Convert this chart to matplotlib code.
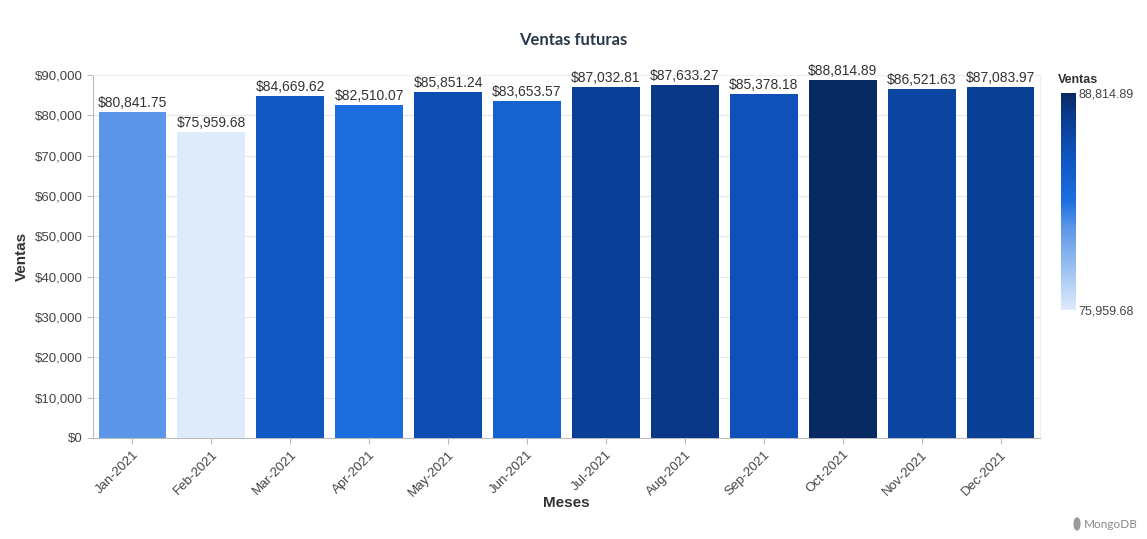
import matplotlib
matplotlib.use('Agg')
import matplotlib.pyplot as plt
from matplotlib.colors import LinearSegmentedColormap, Normalize
from matplotlib.patches import Ellipse
from matplotlib.ticker import FuncFormatter

meses = ['Jan-2021', 'Feb-2021', 'Mar-2021', 'Apr-2021', 'May-2021', 'Jun-2021',
         'Jul-2021', 'Aug-2021', 'Sep-2021', 'Oct-2021', 'Nov-2021', 'Dec-2021']
ventas = [80841.75, 75959.68, 84669.62, 82510.07, 85851.24, 83653.57,
          87032.81, 87633.27, 85378.18, 88814.89, 86521.63, 87083.97]

plt.rcParams['font.family'] = ['Liberation Sans', 'DejaVu Sans']

cmap = LinearSegmentedColormap.from_list('ventas', [
    (0.0, '#deebfb'), (0.38, '#5b96e8'), (0.5, '#1d6fe0'),
    (0.7, '#0f55c2'), (0.88, '#0a3d92'), (1.0, '#082a62')])
norm = Normalize(vmin=min(ventas), vmax=max(ventas))

fig = plt.figure(figsize=(11.47, 5.39), dpi=100)
ax = fig.add_axes([0.0811, 0.1874, 0.8256, 0.6735])

x = range(len(meses))
colors = [cmap(norm(v)) for v in ventas]
ax.bar(x, ventas, width=0.86, color=colors, zorder=3)
for i, v in enumerate(ventas):
    ax.text(i, v + 500, '${:,.2f}'.format(v), ha='center', va='bottom',
            fontsize=10, color='#333333', zorder=4)

ax.set_xlim(-0.5, len(meses) - 0.5)
ax.set_ylim(0, 90000)
ax.set_yticks(range(0, 90001, 10000))
ax.yaxis.set_major_formatter(FuncFormatter(lambda v, p: '${:,.0f}'.format(v)))
ax.set_xticks(list(x))
ax.set_xticklabels(meses, rotation=45, ha='right', rotation_mode='anchor')
ax.tick_params(axis='both', labelsize=9.5, colors='#bbbbbb', labelcolor='#444444',
               length=4, width=0.8)
ax.grid(axis='y', color='#e6e6e6', linewidth=0.8, zorder=0)
for s in ['top', 'right']:
    ax.spines[s].set_color('#eeeeee')
for s in ['left', 'bottom']:
    ax.spines[s].set_color('#bbbbbb')

ax.set_xlabel('Meses', fontsize=11, fontweight='bold', color='#333333', labelpad=-2)
ax.set_ylabel('Ventas', fontsize=11, fontweight='bold', color='#333333', labelpad=4)

fig.text(0.5, 0.925, 'Ventas futuras', ha='center', va='center', fontsize=12,
         fontweight='bold', color='#2b3a4a', family=['Lato', 'DejaVu Sans'])

# colour legend
cax = fig.add_axes([0.925, 0.4249, 0.013, 0.4026])
sm = plt.cm.ScalarMappable(norm=norm, cmap=cmap)
cb = fig.colorbar(sm, cax=cax)
cb.outline.set_visible(False)
cb.set_ticks([min(ventas), max(ventas)])
cb.set_ticklabels(['{:,.2f}'.format(min(ventas)), '{:,.2f}'.format(max(ventas))])
cax.tick_params(length=0, labelsize=9, labelcolor='#444444', pad=2)
fig.text(0.922, 0.852, 'Ventas', ha='left', va='center', fontsize=9,
         fontweight='bold', color='#333333')

# watermark
fig.text(0.945, 0.027, 'MongoDB', ha='left', va='center', fontsize=8.5,
         color='#888888', family=['Lato', 'DejaVu Sans'])
fig.patches.append(Ellipse((0.939, 0.028), 0.005, 0.022, transform=fig.transFigure,
                           color='#999999'))

fig.savefig('out.png', dpi=100)
